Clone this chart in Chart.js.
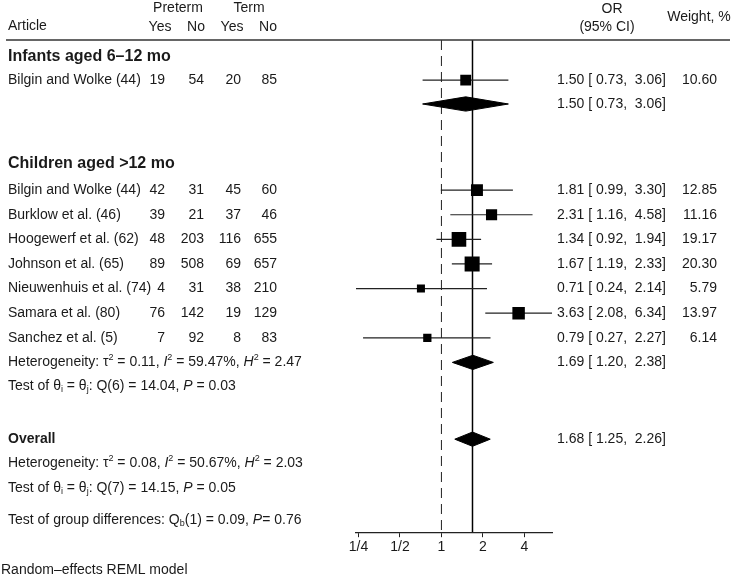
<!DOCTYPE html>
<html>
<head>
<meta charset="utf-8">
<title>Forest plot</title>
<script src="https://cdn.jsdelivr.net/npm/chart.js@4.4.1/dist/chart.umd.min.js"></script>
<style>
  html, body { margin: 0; padding: 0; background: #fff; }
  #forest { display: block; }
</style>
</head>
<body>
<canvas id="forest" width="732" height="578"></canvas>
<script>
// Dados dos estudos
const articles = ['Bilgin and Wolke (44)', 'Bilgin and Wolke (44)', 'Burklow et al. (46)', 'Hoogewerf et al. (62)',
    'Johnson et al. (65)', 'Nieuwenhuis et al. (74)', 'Samara et al. (80)', 'Sanchez et al. (5)'];
const studyGroup = [0, 1, 1, 1, 1, 1, 1, 1];
const pretermYes = [19, 42, 39, 48, 89, 4, 76, 7];
const pretermNo = [54, 31, 21, 203, 508, 31, 142, 92];
const termYes = [20, 45, 37, 116, 69, 38, 19, 8];
const termNo = [85, 60, 46, 655, 657, 210, 129, 83];
const oddsRatio = [1.50, 1.81, 2.31, 1.34, 1.67, 0.71, 3.63, 0.79];
const ciLower = [0.73, 0.99, 1.16, 0.92, 1.19, 0.24, 2.08, 0.27];
const ciUpper = [3.06, 3.30, 4.58, 1.94, 2.33, 2.14, 6.34, 2.27];
const weights = [10.60, 12.85, 11.16, 19.17, 20.30, 5.79, 13.97, 6.14];

// Subgrupos e efeito global
const groups = ['Infants aged 6\u201312 mo', 'Children aged >12 mo'];
const groupOR = [1.50, 1.69];
const groupLower = [0.73, 1.20];
const groupUpper = [3.06, 2.38];
const overallOR = 1.68;
const overallLower = 1.25;
const overallUpper = 2.26;

// Heterogeneidade: [crianças, global]
const hetTau2 = [0.11, 0.08];
const hetI2 = [59.47, 50.67];
const hetH2 = [2.47, 2.03];
const hetDf = [6, 7];
const hetQ = [14.04, 14.15];
const hetP = [0.03, 0.05];
const groupDiffDf = 1;
const groupDiffQ = 0.09;
const groupDiffP = 0.76;

// Eixo
const tickValues = [0.25, 0.5, 1, 2, 4];
const tickLabels = ['1/4', '1/2', '1', '2', '4'];

// Layout (posições de linha no eixo y)
const studyRow = [1.63, 6.1, 7.1, 8.1, 9.1, 10.1, 11.1, 12.1];
const groupHeadRow = [0.69, 5.04];
const groupDiamondRow = [2.6, 13.1];
const groupTestRow = 14.05;
const overallRow = 16.22;
const overallHetRow = 17.2;
const overallTestRow = 18.2;
const groupDiffRow = 19.5;
const diamondHalf = 0.29;

const FONT = '"Liberation Sans", Arial, Helvetica, sans-serif';
const TEXT = '#1a1a1a';

function fmtCI(or, lo, hi) {
    const f = v => v.toFixed(2).padStart(5, ' ');
    return or.toFixed(2) + ' [' + f(lo) + ', ' + f(hi) + ']';
}

function diamond(or, lo, hi, row) {
    return {
        data: [
            { x: lo, y: row }, { x: or, y: row - diamondHalf },
            { x: hi, y: row }, { x: or, y: row + diamondHalf }, { x: lo, y: row }
        ],
        showLine: true,
        fill: 'shape',
        tension: 0,
        borderColor: '#000',
        backgroundColor: '#000',
        borderWidth: 1,
        pointRadius: 0,
        order: 1
    };
}

// Texto com itálico, sobrescrito e subscrito
function drawRich(ctx, x, y, parts) {
    parts.forEach(([text, style]) => {
        let dy = 0;
        ctx.font = '14px ' + FONT;
        if (style === 'i') ctx.font = 'italic 14px ' + FONT;
        if (style === 'sup') { ctx.font = '9px ' + FONT; dy = -5; }
        if (style === 'sub') { ctx.font = '9px ' + FONT; dy = 4; }
        ctx.fillText(text, x, y + dy);
        x += ctx.measureText(text).width;
    });
}

function hetParts(k) {
    return [
        ['Heterogeneity: \u03c4'], ['2', 'sup'], [' = ' + hetTau2[k].toFixed(2) + ', '],
        ['I', 'i'], ['2', 'sup'], [' = ' + hetI2[k].toFixed(2) + '%, '],
        ['H', 'i'], ['2', 'sup'], [' = ' + hetH2[k].toFixed(2)]
    ];
}

function testParts(k) {
    return [
        ['Test of \u03b8'], ['i', 'sub'], [' = \u03b8'], ['j', 'sub'],
        [': Q(' + hetDf[k] + ') = ' + hetQ[k].toFixed(2) + ', '], ['P', 'i'], [' = ' + hetP[k].toFixed(2)]
    ];
}

const textPlugin = {
    id: 'forestText',
    afterDraw(chart) {
        const ctx = chart.ctx;
        const y = chart.scales.y;
        ctx.save();
        ctx.fillStyle = TEXT;
        ctx.textBaseline = 'middle';

        // Cabeçalho
        ctx.font = '14px ' + FONT;
        ctx.textAlign = 'left';
        ctx.fillText('Article', 8, 26);
        ctx.textAlign = 'center';
        ctx.fillText('Preterm', 178, 8);
        ctx.fillText('Term', 249, 8);
        ctx.fillText('Yes', 160, 27);
        ctx.fillText('No', 196, 27);
        ctx.fillText('Yes', 232, 27);
        ctx.fillText('No', 268, 27);
        ctx.fillText('OR', 612, 9);
        ctx.fillText('(95% CI)', 607, 27);
        ctx.fillText('Weight, %', 699, 17);

        ctx.strokeStyle = '#333';
        ctx.lineWidth = 1.5;
        ctx.beginPath();
        ctx.moveTo(6, 40);
        ctx.lineTo(730, 40);
        ctx.stroke();

        // Títulos dos subgrupos
        ctx.textAlign = 'left';
        ctx.font = 'bold 16px ' + FONT;
        groups.forEach((g, k) => ctx.fillText(g, 8, y.getPixelForValue(groupHeadRow[k])));

        // Linhas dos estudos
        articles.forEach((a, i) => {
            const py = y.getPixelForValue(studyRow[i]);
            ctx.font = '14px ' + FONT;
            ctx.textAlign = 'left';
            ctx.fillText(a, 8, py);
            ctx.fillText(fmtCI(oddsRatio[i], ciLower[i], ciUpper[i]), 557, py);
            ctx.textAlign = 'right';
            ctx.fillText(pretermYes[i], 165, py);
            ctx.fillText(pretermNo[i], 204, py);
            ctx.fillText(termYes[i], 241, py);
            ctx.fillText(termNo[i], 277, py);
            ctx.fillText(weights[i].toFixed(2), 717, py);
        });

        // Resumos
        ctx.textAlign = 'left';
        ctx.font = '14px ' + FONT;
        groupOR.forEach((or, k) => {
            ctx.fillText(fmtCI(or, groupLower[k], groupUpper[k]), 557, y.getPixelForValue(groupDiamondRow[k]));
        });
        ctx.fillText(fmtCI(overallOR, overallLower, overallUpper), 557, y.getPixelForValue(overallRow));

        drawRich(ctx, 8, y.getPixelForValue(groupDiamondRow[1]), hetParts(0));
        drawRich(ctx, 8, y.getPixelForValue(groupTestRow), testParts(0));

        ctx.font = 'bold 14px ' + FONT;
        ctx.fillText('Overall', 8, y.getPixelForValue(overallRow));
        drawRich(ctx, 8, y.getPixelForValue(overallHetRow), hetParts(1));
        drawRich(ctx, 8, y.getPixelForValue(overallTestRow), testParts(1));
        drawRich(ctx, 8, y.getPixelForValue(groupDiffRow), [
            ['Test of group differences: Q'], ['b', 'sub'],
            ['(' + groupDiffDf + ') = ' + groupDiffQ.toFixed(2) + ', '], ['P', 'i'], ['= ' + groupDiffP.toFixed(2)]
        ]);

        ctx.font = '14px ' + FONT;
        ctx.fillText('Random\u2013effects REML model', 1, 570);
        ctx.restore();
    }
};

const datasets = [];

// Quadrados ponderados
datasets.push({
    data: oddsRatio.map((or, i) => ({ x: or, y: studyRow[i] })),
    pointStyle: 'rect',
    pointRadius: weights.map(w => 2.36 * Math.sqrt(w)),
    backgroundColor: '#000',
    borderColor: '#000',
    pointBorderWidth: 0,
    order: 0
});

// Intervalos de confiança
oddsRatio.forEach((or, i) => {
    datasets.push({
        data: [{ x: ciLower[i], y: studyRow[i] }, { x: ciUpper[i], y: studyRow[i] }],
        showLine: true,
        borderColor: '#222',
        borderWidth: 1.2,
        pointRadius: 0,
        order: 2
    });
});

// Diamantes
groupOR.forEach((or, k) => datasets.push(diamond(or, groupLower[k], groupUpper[k], groupDiamondRow[k])));
datasets.push(diamond(overallOR, overallLower, overallUpper, overallRow));

// Linhas de referência
datasets.push({
    data: [{ x: 1, y: 0 }, { x: 1, y: 20 }],
    showLine: true,
    borderColor: '#222',
    borderWidth: 1,
    borderDash: [10, 6],
    pointRadius: 0,
    order: 3
});
datasets.push({
    data: [{ x: overallOR, y: 0 }, { x: overallOR, y: 20 }],
    showLine: true,
    borderColor: '#000',
    borderWidth: 1.5,
    pointRadius: 0,
    order: 3
});

new Chart(document.getElementById('forest'), {
    type: 'scatter',
    data: { datasets: datasets },
    options: {
        responsive: false,
        animation: false,
        events: [],
        layout: { padding: { left: 356, right: 180, top: 40, bottom: 20 } },
        plugins: {
            legend: { display: false },
            tooltip: { enabled: false }
        },
        scales: {
            x: {
                type: 'logarithmic',
                min: 0.24,
                max: 6.34,
                afterBuildTicks: axis => { axis.ticks = tickValues.map(v => ({ value: v })); },
                grid: { drawOnChartArea: false, tickLength: 5, tickColor: '#222' },
                border: { color: '#222', width: 1.2 },
                ticks: {
                    color: TEXT,
                    font: { family: FONT, size: 14 },
                    padding: 2,
                    maxRotation: 0,
                    autoSkip: false,
                    callback: (v, i) => tickLabels[i]
                }
            },
            y: {
                type: 'linear',
                display: false,
                reverse: true,
                min: 0,
                max: 20
            }
        }
    },
    plugins: [textPlugin]
});
</script>
</body>
</html>
